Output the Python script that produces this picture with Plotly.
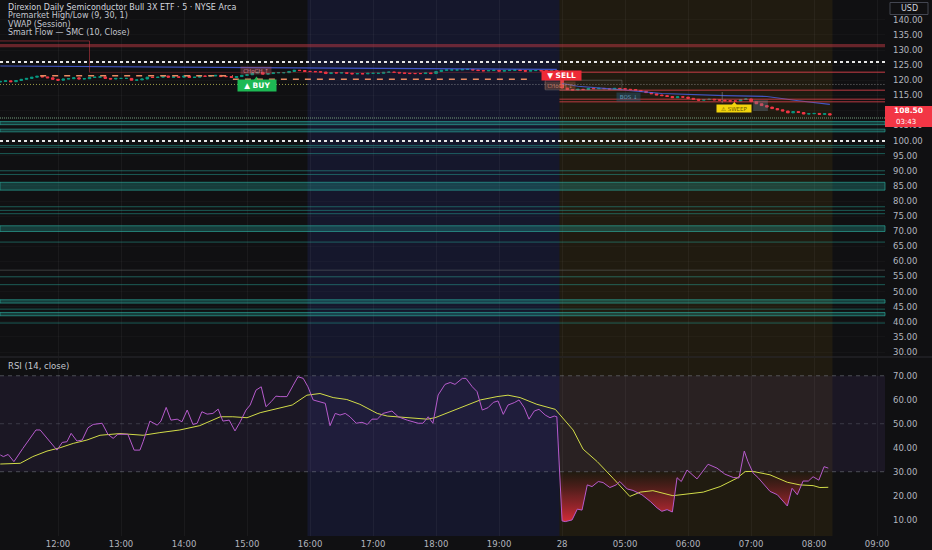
import plotly.graph_objects as go

# ---------------- data ----------------
time_ticks = [11, 23, 35, 47, 59, 71, 83, 95, 107, 119, 131, 143, 155, 167]
time_labels = ["12:00", "13:00", "14:00", "15:00", "16:00", "17:00", "18:00",
               "19:00", "28", "05:00", "06:00", "07:00", "08:00", "09:00"]

first_open = 119.4
closes = [
    119.6, 119.8, 119.5, 119.9, 120.3, 120.6, 121.0, 121.3, 121.1, 120.8, 120.3,
    120.0, 120.4, 120.5, 120.8, 120.4, 120.5, 120.9, 121.0, 121.1, 120.6, 120.4, 120.6,
    120.6, 120.6, 120.0, 120.1, 120.4, 121.0, 120.9, 121.0, 121.4, 121.0, 121.1, 121.0,
    121.4, 120.9, 121.0, 121.4, 121.3, 121.4, 121.6, 121.2, 121.2, 120.9, 121.2, 121.6,
    121.8, 122.4, 122.6, 122.0, 122.2, 122.5, 122.5, 122.5, 122.9, 123.3, 123.2, 122.9,
    122.9, 122.8, 122.7, 122.2, 122.5, 122.4, 122.5, 122.3, 122.1, 122.2, 122.1, 122.3,
    122.3, 122.3, 122.6, 122.7, 122.6, 122.4, 122.3, 122.2, 122.2, 122.2, 122.4, 122.2,
    122.9, 123.3, 123.4, 123.4, 123.4, 123.6, 123.6, 123.4, 123.2, 123.1, 123.2, 123.3,
    123.0, 123.2, 123.3, 123.4, 123.2, 123.0, 123.2, 123.2, 123.1, 123.0, 123.1, 123.0,
    117.4,
    116.9, 116.8, 117.0, 116.9, 117.3, 117.2, 117.3, 117.2, 117.1, 117.3, 117.2,
    117.0, 116.9, 116.6, 116.3, 115.9, 115.5, 115.1, 114.9, 114.6, 114.2, 114.5, 114.4,
    114.0, 113.7, 113.4, 113.6, 113.7, 113.5, 113.4, 113.2, 113.1, 113.1, 113.6, 113.8,
    112.9, 112.2, 111.6, 111.1, 110.6, 110.2, 109.8, 109.2, 109.6, 109.3, 108.8, 108.9,
    109.0, 108.7, 108.9, 108.5,
]
last_price = "108.50"
countdown = "03:43"

vwap_bar = [0, 30, 58, 80, 106, None, 107, 110, 118, 126, 138, 146, 152, 158]
vwap_val = [124.7, 124.4, 124.1, 123.8, 123.6, None, 118.9, 118.0, 116.9, 115.6, 114.9, 114.6, 113.2, 112.0]

rsi_bar = [0.0, 0.6, 1.5, 2.6, 4.3, 6.8, 7.6, 10.8, 11.8, 12.7, 13.5, 14.6, 15.6, 16.7, 17.7,
           19.4, 20.5, 21.5, 22.4, 24.3, 25.5, 26.6, 27.2, 28.5, 29.9, 30.6, 31.6, 32.5, 33.7,
           34.6, 35.6, 36.7, 37.5, 38.4, 39.4, 40.5, 41.5, 42.4, 43.6, 44.7, 45.7, 46.8, 47.6,
           48.7, 49.7, 50.6, 51.6, 52.5, 53.3, 54.6, 55.8, 56.7, 57.7, 58.6, 59.6, 60.9, 61.9,
           62.8, 63.8, 64.7, 65.7, 66.6, 67.8, 68.9, 69.9, 70.8, 71.8, 72.9, 74.6, 75.8, 77.5,
           79.6, 80.5, 81.5, 82.4, 83.4, 84.7, 85.7, 86.6, 88.0, 88.7, 89.9, 90.8, 91.8, 92.9,
           93.9, 94.8, 95.8, 96.7, 97.9, 98.8, 99.8, 100.7, 101.7, 102.6, 103.8, 104.7, 105.5,
           106.0, 107.0, 107.6, 108.9, 109.9, 110.8, 111.8, 112.7, 113.9, 114.8, 116.1, 117.3,
           118.0, 119.4, 120.5, 122.2, 123.8, 125.1, 126.0, 127.0, 128.0, 128.9, 129.7, 130.8,
           132.7, 134.8, 136.5, 138.0, 139.6, 140.7, 141.7, 142.4, 143.4, 144.3, 145.3, 146.6,
           148.0, 149.9, 150.8, 151.8, 152.9, 153.9, 154.8, 155.9, 156.9, 157.7]
rsi_val = [37.0, 36.3, 37.2, 34.2, 39.7, 47.4, 47.4, 39.0, 42.2, 42.5, 46.0, 42.8, 43.2, 48.3, 49.7,
           50.2, 45.6, 43.9, 45.6, 45.6, 39.0, 39.0, 42.5, 51.1, 49.4, 51.1, 56.8, 51.5, 51.9,
           50.8, 55.7, 49.7, 50.2, 55.0, 54.0, 54.3, 56.1, 51.1, 51.5, 47.0, 50.8, 55.7, 57.8,
           64.0, 65.4, 57.1, 59.2, 61.5, 61.3, 61.3, 66.1, 69.6, 68.9, 65.4, 59.9, 59.2, 58.5,
           49.2, 54.3, 53.6, 54.3, 52.9, 50.2, 50.6, 49.7, 51.9, 51.9, 54.3, 55.3, 52.9, 51.5,
           50.2, 50.2, 52.9, 50.2, 62.0, 66.4, 67.2, 66.4, 68.9, 68.9, 65.4, 63.4, 55.7, 56.7,
           58.9, 59.5, 53.9, 57.8, 58.8, 59.9, 56.7, 51.9, 55.3, 56.0, 53.6, 52.5, 53.2,
           52.9, 9.5, 9.2, 9.9, 14.4, 14.0, 24.5, 23.8, 25.9, 25.5, 23.4, 24.5,
           25.9, 22.8, 22.2, 20.4, 17.6, 14.9, 13.5, 14.2, 13.2, 27.5, 25.9, 30.7,
           27.0, 33.1, 31.5, 29.0, 27.6, 27.4, 38.6, 34.2, 29.4, 27.6, 25.2, 21.8,
           20.4, 15.7, 23.1, 20.4, 26.1, 26.1, 27.9, 26.5, 32.1, 31.5]

ma_bar = [0.0, 3.8, 6.2, 8.9, 11.4, 13.9, 16.5, 19.0, 22.8, 27.2, 30.4, 34.2, 38.0, 41.9, 44.3,
          47.0, 49.5, 52.7, 55.6, 58.4, 60.9, 63.4, 66.0, 68.5, 71.8, 73.7, 77.5, 81.3, 82.8,
          85.7, 87.6, 91.4, 94.6, 96.7, 99.0, 102.2, 105.7, 109.1, 111.0, 113.7, 116.7, 119.9,
          121.9, 124.3, 128.1, 130.8, 133.9, 137.1, 140.3, 141.9, 143.4, 146.6, 149.9, 152.3,
          154.8, 156.1, 157.7]
ma_val = [33.2, 33.5, 36.3, 38.6, 40.0, 41.8, 43.2, 45.2, 45.9, 45.2, 46.3, 47.4, 49.2, 52.9, 52.9,
          52.5, 54.6, 56.4, 57.8, 61.9, 62.6, 60.9, 60.1, 58.1, 54.3, 53.2, 52.5, 51.9, 52.5,
          55.0, 56.4, 59.9, 61.3, 61.9, 60.9, 58.1, 56.0, 47.4, 39.4, 34.2, 27.3, 19.7,
          21.5, 22.1, 20.0, 20.7, 21.5, 23.8, 27.3, 30.1, 30.1, 28.7, 25.6, 24.5,
          24.2, 23.4, 23.5]

price_ticks = list(range(30, 141, 5))
rsi_ticks = [10, 20, 30, 40, 50, 60, 70]
rsi_levels = [70, 50, 30]

# session boundaries (bar index)
afterhours_start, afterhours_end = 58.5, 106.5
premarket_start, premarket_end = 106.5, 158.5

# levels
red_band = (132.0, 130.9)
red_box_top = 133.0
red_level = 122.6
premarket_red_levels = [116.7, 113.7, 112.9]
white_dotted_levels = [126.0, 99.9]
gray_dotted_level = 118.6
orange_dashes = [(7.6, 44.3, 121.5), (44.3, 100.5, 120.3)]
teal_lines = [98.4, 97.8, 95.7, 90.0, 88.8, 78.1, 76.9, 75.8, 66.4, 54.9, 52.3, 44.2, 39.6]
teal_bands = [(106.3, 105.3), (103.8, 102.9), (86.2, 83.6), (71.8, 69.9), (47.3, 46.2), (43.1, 42.0)]
gray_line = 57.1
green_dotted_level = 107.5

signals = [
    ("▲ BUY", 48.8, 118.2),
    ("CHoCH ↑", 48.7, 123.2),
    ("▼ SELL", 106.9, 121.6),
    ("CHoCH ↓", 106.6, 118.3),
    ("BOS ↓", 119.6, 114.5),
    ("⚠ SWEEP", 139.8, 110.6),
]

legend_lines = ["Direxion Daily Semiconductor Bull 3X ETF · 5 · NYSE Arca",
                "Premarket High/Low (9, 30, 1)",
                "VWAP (Session)",
                "Smart Flow — SMC (10, Close)"]

# ---------------- geometry / style ----------------
W, H = 932, 550
ML, MR, MT, MB = 0, 47, 0, 14
PW, PH = W - ML - MR, H - MT - MB
XR = [-0.05, 168.5]
PRICE_RANGE = [28.68, 146.56]
RSI_RANGE = [3.2, 77.4]
BG = "#101012"
TXT = "#b2b5be"
FONT = "DejaVu Sans"
FS = 8.5


def px_x(px):
    return px / PW


def px_y(py):
    return (PH - py) / PH


bars = list(range(len(closes)))
opens = [first_open] + closes[:-1]
highs = [max(o, c) for o, c in zip(opens, closes)]
lows = [min(o, c) for o, c in zip(opens, closes)]

fig = go.Figure()

shapes = []
# session backgrounds
shapes.append(dict(type="rect", xref="x", yref="paper", x0=afterhours_start, x1=afterhours_end,
                   y0=0, y1=1, fillcolor="rgba(60,80,255,0.11)", line_width=0, layer="below"))
shapes.append(dict(type="rect", xref="x", yref="paper", x0=premarket_start, x1=premarket_end,
                   y0=0, y1=1, fillcolor="rgba(255,180,0,0.07)", line_width=0, layer="below"))
# RSI band
shapes.append(dict(type="rect", xref="paper", yref="y2", x0=0, x1=1, y0=30, y1=70,
                   fillcolor="rgba(126,87,194,0.10)", line_width=0, layer="below"))
for lv in rsi_levels:
    shapes.append(dict(type="line", xref="paper", yref="y2", x0=0, x1=1, y0=lv, y1=lv,
                       line=dict(color="rgba(120,123,134,%s)" % (0.35 if lv == 50 else 0.55),
                                 width=1, dash="4px,4px"), layer="below"))
# pane separator
shapes.append(dict(type="line", xref="paper", yref="paper", x0=0, x1=W / PW, y0=px_y(357), y1=px_y(357),
                   line=dict(color="#2a2a30", width=1)))

# teal levels
for a, b in teal_bands:
    shapes.append(dict(type="rect", xref="paper", yref="y", x0=0, x1=1, y0=b, y1=a,
                       fillcolor="rgba(38,166,154,0.30)", line=dict(color="rgba(45,180,165,0.6)", width=1)))
for lv in teal_lines:
    shapes.append(dict(type="line", xref="paper", yref="y", x0=0, x1=1, y0=lv, y1=lv,
                       line=dict(color="rgba(38,166,154,0.5)", width=1)))
shapes.append(dict(type="line", xref="paper", yref="y", x0=0, x1=1, y0=gray_line, y1=gray_line,
                   line=dict(color="rgba(110,120,120,0.45)", width=1)))
shapes.append(dict(type="line", xref="paper", yref="y", x0=0, x1=1, y0=green_dotted_level,
                   y1=green_dotted_level, line=dict(color="rgba(110,150,120,0.7)", width=1.5, dash="1px,1px")))

# red levels
shapes.append(dict(type="rect", xref="paper", yref="y", x0=0, x1=1, y0=red_band[1], y1=red_band[0],
                   fillcolor="rgba(190,55,65,0.50)", line_width=0))
shapes.append(dict(type="line", xref="x", yref="y", x0=XR[0], x1=17, y0=red_box_top, y1=red_box_top,
                   line=dict(color="rgba(190,55,65,0.6)", width=1)))
shapes.append(dict(type="line", xref="x", yref="y", x0=17, x1=17, y0=red_box_top, y1=red_level,
                   line=dict(color="rgba(190,55,65,0.6)", width=1)))
shapes.append(dict(type="line", xref="x", yref="y", x0=17, x1=premarket_start, y0=red_level, y1=red_level,
                   line=dict(color="rgba(190,55,65,0.35)", width=1)))
shapes.append(dict(type="line", xref="x", yref="y", x0=premarket_start, x1=XR[1], y0=red_level, y1=red_level,
                   line=dict(color="rgba(220,65,75,0.6)", width=1.5)))
for lv in premarket_red_levels:
    shapes.append(dict(type="line", xref="x", yref="y", x0=premarket_start, x1=XR[1], y0=lv, y1=lv,
                       line=dict(color="rgba(220,65,75,0.55)", width=1.5)))
# dotted levels
for lv in white_dotted_levels:
    shapes.append(dict(type="line", xref="paper", yref="y", x0=0, x1=1, y0=lv, y1=lv,
                       line=dict(color="#e6e6e6", width=2, dash="dot")))
shapes.append(dict(type="line", xref="x", yref="y", x0=XR[0], x1=afterhours_start, y0=gray_dotted_level,
                   y1=gray_dotted_level, line=dict(color="rgba(205,205,90,0.75)", width=1, dash="1px,2px")))
shapes.append(dict(type="line", xref="x", yref="y", x0=afterhours_start, x1=XR[1], y0=gray_dotted_level,
                   y1=gray_dotted_level, line=dict(color="rgba(200,200,200,0.55)", width=1, dash="1px,2px")))
for x0, x1, lv in orange_dashes:
    shapes.append(dict(type="line", xref="x", yref="y", x0=x0, x1=x1, y0=lv, y1=lv,
                       line=dict(color="#e98a62", width=1.5, dash="6px,6px")))
# structure boxes
shapes.append(dict(type="rect", xref="x", yref="y", x0=103.8, x1=118.4, y0=116.8, y1=120.0,
                   fillcolor="rgba(120,120,120,0.06)", line=dict(color="rgba(150,150,150,0.35)", width=1)))
shapes.append(dict(type="line", xref="x", yref="y", x0=137.5, x1=137.5, y0=112.5, y1=116.1,
                   line=dict(color="rgba(160,160,160,0.5)", width=1)))
shapes.append(dict(type="rect", xref="x", yref="y", x0=143.4, x1=146.2, y0=109.8, y1=113.4,
                   fillcolor="rgba(110,130,150,0.35)", line_width=0))

# current price box
shapes.append(dict(type="rect", xref="paper", yref="paper", x0=1.0, x1=W / PW, y0=px_y(127), y1=px_y(106),
                   fillcolor="#f23645", line_width=0))
# USD box
shapes.append(dict(type="rect", xref="paper", yref="paper", x0=px_x(890), x1=px_x(928), y0=px_y(14.5),
                   y1=px_y(2.5), fillcolor=BG, line=dict(color="#434651", width=1)))

# ---------------- traces ----------------
fig.add_trace(go.Scatter(x=vwap_bar, y=vwap_val, mode="lines", xaxis="x", yaxis="y",
                         line=dict(color="rgba(70,95,225,0.85)", width=1.2), connectgaps=False,
                         hoverinfo="skip"))
fig.add_trace(go.Candlestick(x=bars, open=opens, high=highs, low=lows, close=closes,
                             xaxis="x", yaxis="y", whiskerwidth=0,
                             increasing=dict(line=dict(color="#089981", width=1), fillcolor="#089981"),
                             decreasing=dict(line=dict(color="#f23645", width=1), fillcolor="#f23645"),
                             hoverinfo="skip"))

# pointer markers for labels
fig.add_trace(go.Scatter(x=[signals[0][1]], y=[120.2], mode="markers", xaxis="x", yaxis="y",
                         marker=dict(symbol="triangle-up", size=6, color="#1db954"), hoverinfo="skip"))
fig.add_trace(go.Scatter(x=[signals[5][1]], y=[112.0], mode="markers", xaxis="x", yaxis="y",
                         marker=dict(symbol="triangle-up", size=5, color="#f2d40c"), hoverinfo="skip"))

# RSI oversold gradient fill
cx, cy = [], []
for k in range(len(rsi_bar)):
    xk, yk = rsi_bar[k], rsi_val[k]
    if k > 0:
        xp, yp = rsi_bar[k - 1], rsi_val[k - 1]
        if (yp - 30) * (yk - 30) < 0:
            t = (30 - yp) / (yk - yp)
            cx.append(xp + t * (xk - xp))
            cy.append(30.0)
    cx.append(xk)
    cy.append(min(yk, 30.0))
fig.add_trace(go.Scatter(x=cx, y=[30.0] * len(cx), mode="lines", xaxis="x2", yaxis="y2",
                         line=dict(width=0, color="rgba(0,0,0,0)"), hoverinfo="skip"))
fig.add_trace(go.Scatter(x=cx, y=cy, mode="lines", xaxis="x2", yaxis="y2", fill="tonexty",
                         fillgradient=dict(type="vertical", start=8, stop=30,
                                           colorscale=[[0, "rgba(235,45,60,0.95)"],
                                                       [0.55, "rgba(200,40,55,0.45)"],
                                                       [1, "rgba(160,30,40,0.0)"]]),
                         line=dict(width=0, color="rgba(0,0,0,0)"), hoverinfo="skip"))
fig.add_trace(go.Scatter(x=ma_bar, y=ma_val, mode="lines", xaxis="x2", yaxis="y2",
                         line=dict(color="#d2dc48", width=1), hoverinfo="skip"))
fig.add_trace(go.Scatter(x=rsi_bar, y=rsi_val, mode="lines", xaxis="x2", yaxis="y2",
                         line=dict(color="#b65bcc", width=1), hoverinfo="skip"))

# ---------------- annotations ----------------
ann = []
legend_y = [7.0, 15.6, 24.2, 32.8]
for i, (txt, yy) in enumerate(zip(legend_lines, legend_y)):
    ann.append(dict(text=txt, xref="paper", yref="paper", x=px_x(6), y=px_y(yy), xanchor="left",
                    yanchor="middle", showarrow=False,
                    font=dict(family=FONT, size=8, color="#d1d4dc" if i == 0 else "#c3c6ce")))
ann.append(dict(text="RSI (14, close)", xref="paper", yref="paper", x=px_x(6), y=px_y(365.7),
                xanchor="left", yanchor="middle", showarrow=False,
                font=dict(family=FONT, size=8.5, color="#c3c6ce")))
ann.append(dict(text="USD", xref="paper", yref="paper", x=px_x(909), y=px_y(8.5), xanchor="center",
                yanchor="middle", showarrow=False, font=dict(family=FONT, size=8, color="#d1d4dc")))
ann.append(dict(text="<b>%s</b>" % last_price, xref="paper", yref="paper", x=px_x(908.5), y=px_y(110.8),
                xanchor="center", yanchor="middle", showarrow=False,
                font=dict(family=FONT, size=7.5, color="#ffffff")))
ann.append(dict(text=countdown, xref="paper", yref="paper", x=px_x(906), y=px_y(121.8), xanchor="center",
                yanchor="middle", showarrow=False, font=dict(family=FONT, size=7, color="#ffffff")))

sig_style = {
    "▲ BUY": dict(bg="#1db954", fg="#ffffff", size=7.5, pad=1, bold=True, padtxt="  "),
    "▼ SELL": dict(bg="#ee2a36", fg="#ffffff", size=7.5, pad=0, bold=True, padtxt="  "),
    "CHoCH ↑": dict(bg="rgba(190,90,100,0.35)", fg="rgba(230,150,160,0.8)", size=5.5, pad=0.5, bold=False, padtxt=" "),
    "CHoCH ↓": dict(bg="rgba(190,110,70,0.30)", fg="rgba(220,140,110,0.8)", size=5.5, pad=0.5, bold=False, padtxt=" "),
    "BOS ↓": dict(bg="rgba(40,90,120,0.45)", fg="rgba(110,170,210,0.85)", size=5.5, pad=1, bold=False, padtxt=" "),
    "⚠ SWEEP": dict(bg="#f2d40c", fg="#6a5a00", size=5.5, pad=0.5, bold=False, padtxt="  "),
}
for txt, bx, py in signals:
    st = sig_style[txt]
    body = st["padtxt"].replace(" ", "&nbsp;") + txt + st["padtxt"].replace(" ", "&nbsp;")
    label = "<b>%s</b>" % body if st["bold"] else body
    ann.append(dict(text=label, xref="x", yref="y", x=bx, y=py, showarrow=False, xanchor="center",
                    yanchor="middle", bgcolor=st["bg"], borderpad=st["pad"],
                    font=dict(family=FONT, size=st["size"], color=st["fg"])))

grid_col = "rgba(255,255,255,0.045)"
fig.update_layout(
    width=W, height=H, margin=dict(l=ML, r=MR, t=MT, b=MB),
    paper_bgcolor=BG, plot_bgcolor=BG, showlegend=False, hovermode=False,
    font=dict(family=FONT, color=TXT, size=FS),
    shapes=shapes, annotations=ann,
    xaxis=dict(domain=[0, 1], anchor="y", range=XR, showticklabels=False, tickvals=time_ticks,
               showgrid=True, gridcolor=grid_col, zeroline=False, rangeslider=dict(visible=False),
               showline=False, fixedrange=True),
    yaxis=dict(domain=[px_y(356), 1], anchor="x", side="right", range=PRICE_RANGE, tickvals=price_ticks,
               tickformat=".2f", showgrid=True, gridcolor="rgba(255,255,255,0.025)", zeroline=False,
               ticks="", ticklabelstandoff=7, tickfont=dict(family=FONT, size=FS, color=TXT),
               fixedrange=True),
    xaxis2=dict(domain=[0, 1], anchor="y2", range=XR, matches="x", tickvals=time_ticks,
                ticktext=time_labels, showgrid=True, gridcolor=grid_col, zeroline=False, ticks="",
                ticklabelstandoff=1, tickfont=dict(family=FONT, size=FS, color=TXT), fixedrange=True),
    yaxis2=dict(domain=[0, px_y(358)], anchor="x2", side="right", range=RSI_RANGE, tickvals=rsi_ticks,
                tickformat=".2f", showgrid=False, zeroline=False, ticks="", ticklabelstandoff=7,
                tickfont=dict(family=FONT, size=FS, color=TXT), fixedrange=True),
)

fig.write_html("out.html", config={"displayModeBar": False},
               post_script="document.body.style.margin='0px';document.body.style.background='%s';" % BG)
